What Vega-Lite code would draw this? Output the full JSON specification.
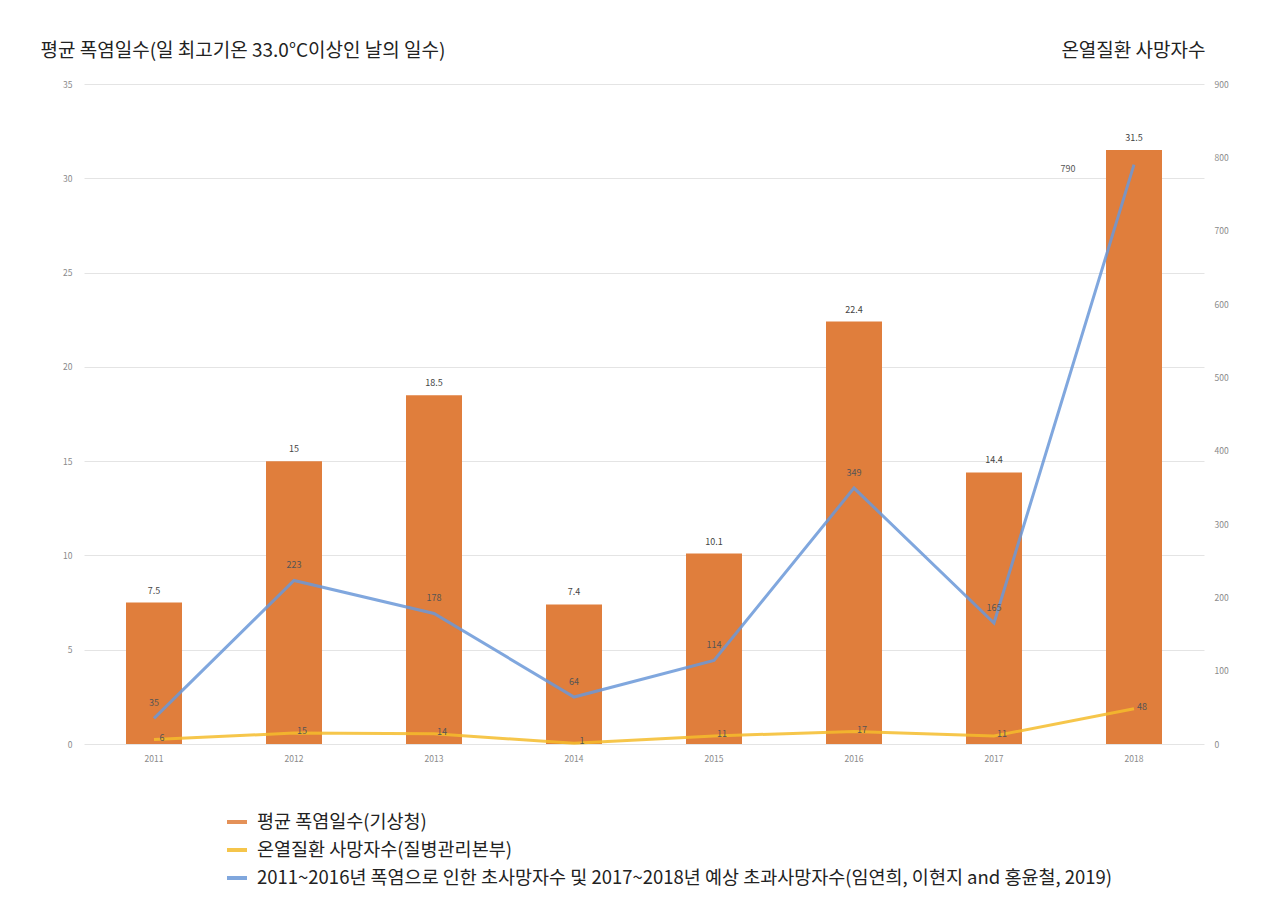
{
  "$schema": "https://vega.github.io/schema/vega-lite/v6.json",
  "autosize": {"type": "none"},
  "width": 1120,
  "height": 660,
  "padding": {"left": 84, "top": 84, "right": 84, "bottom": 165},
  "background": "white",
  "config": {
    "font": "Noto Sans CJK KR",
    "view": {"stroke": null},
    "axis": {"domain": false, "ticks": false, "labelColor": "#8a8a8a", "labelFontSize": 8.5, "gridColor": "#e4e4e4", "gridWidth": 1}
  },
  "data": {"values": [
    {"year": "2011", "days": 7.5, "deaths": 6, "excess": 35},
    {"year": "2012", "days": 15, "deaths": 15, "excess": 223},
    {"year": "2013", "days": 18.5, "deaths": 14, "excess": 178},
    {"year": "2014", "days": 7.4, "deaths": 1, "excess": 64},
    {"year": "2015", "days": 10.1, "deaths": 11, "excess": 114},
    {"year": "2016", "days": 22.4, "deaths": 17, "excess": 349},
    {"year": "2017", "days": 14.4, "deaths": 11, "excess": 165},
    {"year": "2018", "days": 31.5, "deaths": 48, "excess": 790}
  ]},
  "encoding": {
    "x": {"field": "year", "type": "ordinal", "scale": {"paddingInner": 0.6, "paddingOuter": 0.3},
      "axis": {"title": null, "labelAngle": 0, "labelPadding": 10, "grid": false}}
  },
  "resolve": {"scale": {"y": "independent"}},
  "layer": [
    {
      "layer": [
        {
          "mark": {"type": "bar", "color": "#E07E3C"},
          "encoding": {
            "y": {"field": "days", "type": "quantitative", "scale": {"domain": [0, 35]},
              "axis": {"values": [0, 5, 10, 15, 20, 25, 30, 35], "labelPadding": 12, "titleAngle": 0, "titleAlign": "left", "titleBaseline": "middle", "titleX": -44, "titleY": -34, "titleFontSize": 19, "titleFontWeight": "normal", "titleColor": "#222222", "title": "평균 폭염일수(일 최고기온 33.0°C이상인 날의 일수)"}},
            "color": {"datum": "평균 폭염일수(기상청)", "type": "nominal"}
          }
        },
        {
          "mark": {"type": "text", "dy": -12, "fontSize": 9, "color": "#444444"},
          "encoding": {
            "y": {"field": "days", "type": "quantitative"},
            "text": {"field": "days", "type": "quantitative"}
          }
        }
      ]
    },
    {
      "transform": [{"fold": ["deaths", "excess"], "as": ["key", "value"]},
        {"calculate": "datum.key == 'deaths' ? '온열질환 사망자수(질병관리본부)' : '2011~2016년 폭염으로 인한 초사망자수 및 2017~2018년 예상 초과사망자수(임연희, 이현지 and 홍윤철, 2019)'", "as": "series"}],
      "layer": [
        {
          "mark": {"type": "line", "strokeWidth": 3, "opacity": 0.85},
          "encoding": {
            "y": {"field": "value", "type": "quantitative", "scale": {"domain": [0, 900]},
              "axis": {"orient": "right", "grid": false, "values": [0, 100, 200, 300, 400, 500, 600, 700, 800, 900], "labelPadding": 10, "titleAngle": 0, "titleAlign": "right", "titleBaseline": "middle", "titleX": 1, "titleY": -34, "titleFontSize": 19, "titleFontWeight": "normal", "titleColor": "#222222", "title": "온열질환 사망자수"}},
            "color": {"field": "series", "type": "nominal",
              "scale": {"domain": ["평균 폭염일수(기상청)", "온열질환 사망자수(질병관리본부)", "2011~2016년 폭염으로 인한 초사망자수 및 2017~2018년 예상 초과사망자수(임연희, 이현지 and 홍윤철, 2019)"],
                "range": ["#E07E3C", "#F4BC2C", "#6A98D8"]},
              "legend": {"title": null, "orient": "none", "legendX": 141, "legendY": 726, "symbolType": "stroke", "symbolStrokeWidth": 4, "symbolSize": 400, "labelFontSize": 18.5, "labelColor": "#222222", "rowPadding": 6, "labelOffset": 8, "labelLimit": 1100}},
            "detail": {"field": "series"}
          }
        },
        {
          "transform": [{"filter": "datum.key == 'deaths'"}],
          "mark": {"type": "text", "dx": 8, "dy": -2, "fontSize": 9, "color": "#555555"},
          "encoding": {
            "y": {"field": "value", "type": "quantitative"},
            "text": {"field": "value", "type": "quantitative"}
          }
        },
        {
          "transform": [{"filter": "datum.key == 'excess' && datum.year != '2018'"}],
          "mark": {"type": "text", "dy": -15, "fontSize": 9, "color": "#555555"},
          "encoding": {
            "y": {"field": "value", "type": "quantitative"},
            "text": {"field": "value", "type": "quantitative"}
          }
        },
        {
          "transform": [{"filter": "datum.key == 'excess' && datum.year == '2018'"}],
          "mark": {"type": "text", "dx": -66, "dy": 4, "fontSize": 9, "color": "#555555"},
          "encoding": {
            "y": {"field": "value", "type": "quantitative"},
            "text": {"field": "value", "type": "quantitative"}
          }
        }
      ]
    }
  ]
}
